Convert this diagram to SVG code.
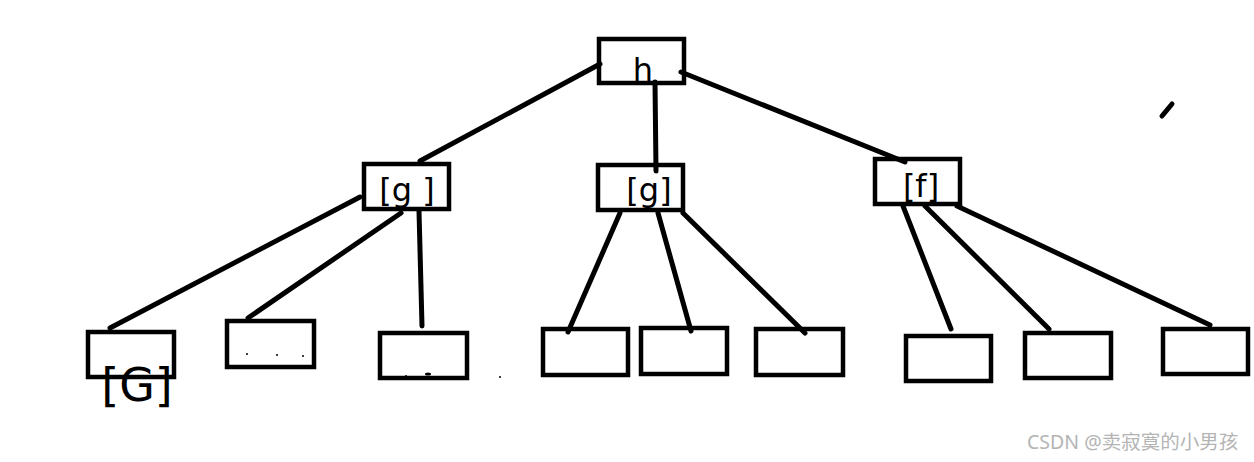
<svg xmlns="http://www.w3.org/2000/svg" width="1254" height="462" viewBox="0 0 1254 462">
<style>
.box{fill:none;stroke:#000;stroke-width:4.5}
.ln{stroke:#000;stroke-width:5;stroke-linecap:round;fill:none}
.lbl{font-family:"DejaVu Sans","Liberation Sans",sans-serif;font-size:32px;fill:#000;text-anchor:middle}
.wm{font-family:"Noto Sans","Noto Sans CJK SC",sans-serif;font-size:19.5px;fill:#b4b4b4}
</style>
<rect width="1254" height="462" fill="#fff"/>
<g id="connectors">
<line class="ln" x1="600" y1="64" x2="420" y2="161"/>
<line class="ln" x1="655" y1="82" x2="656" y2="171"/>
<line class="ln" x1="681" y1="72" x2="905" y2="162"/>
<line class="ln" x1="360" y1="197" x2="110" y2="328"/>
<line class="ln" x1="401" y1="213" x2="248" y2="318"/>
<line class="ln" x1="419" y1="211" x2="422" y2="326"/>
<line class="ln" x1="620" y1="213" x2="568" y2="332"/>
<line class="ln" x1="658" y1="213" x2="691" y2="331"/>
<line class="ln" x1="683" y1="213" x2="805" y2="333"/>
<line class="ln" x1="903" y1="206" x2="951" y2="329"/>
<line class="ln" x1="925" y1="206" x2="1049" y2="329"/>
<line class="ln" x1="957" y1="206" x2="1210" y2="325"/>
<line class="ln" x1="1162" y1="116" x2="1172" y2="104"/>
</g>
<g id="root"><rect class="box" x="599" y="39" width="85" height="44"/><text class="lbl" x="643" y="81">h</text></g>
<g id="n_a"><rect class="box" x="364" y="164" width="85" height="45"/><text class="lbl" x="407" y="201">[g ]</text></g>
<g id="n_b"><rect class="box" x="598" y="165" width="85" height="45"/><text class="lbl" x="649" y="201">[g]</text></g>
<g id="n_c"><rect class="box" x="875" y="159" width="85" height="45"/><text class="lbl" x="921" y="197">[f]</text></g>
<g id="leaf1"><rect class="box" x="88" y="332" width="86" height="45"/><text class="lbl" x="137" y="401" style="font-size:46px">[G]</text></g>
<g id="leaf2"><rect class="box" x="227" y="321" width="87" height="46"/><circle cx="247" cy="354" r="1"/><circle cx="277" cy="355" r="1"/><circle cx="303" cy="356" r="1"/></g>
<g id="leaf3"><rect class="box" x="380" y="333" width="87" height="45"/><circle cx="406" cy="376" r="1"/><ellipse cx="428" cy="374" rx="3" ry="1.5"/></g>
<circle cx="500" cy="377" r="1"/>
<g id="leaf4"><rect class="box" x="543" y="329" width="85" height="46"/></g>
<g id="leaf5"><rect class="box" x="641" y="328" width="86" height="46"/></g>
<g id="leaf6"><rect class="box" x="756" y="329" width="87" height="46"/></g>
<g id="leaf7"><rect class="box" x="906" y="336" width="85" height="45"/></g>
<g id="leaf8"><rect class="box" x="1025" y="333" width="86" height="45"/></g>
<g id="leaf9"><rect class="box" x="1163" y="329" width="85" height="45"/></g>
<text class="wm" x="1027" y="449">CSDN @卖寂寞的小男孩</text>
</svg>
